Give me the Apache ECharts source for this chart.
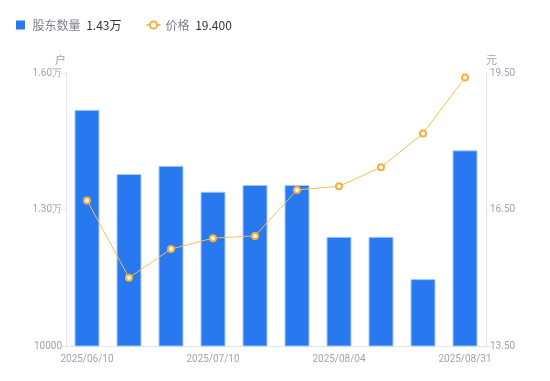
<!DOCTYPE html>
<html>
<head>
<meta charset="utf-8">
<script src="https://cdn.jsdelivr.net/npm/echarts@6/dist/echarts.min.js"></script>
<style>
html,body{margin:0;padding:0;background:#fff;}
#main{width:550px;height:381px;}
</style>
</head>
<body>
<div id="main"></div>
<script>
var dates = ['2025/06/10','2025/06/20','2025/06/30','2025/07/10','2025/07/20','2025/07/31','2025/08/04','2025/08/10','2025/08/20','2025/08/31'];
var holders = [15190, 13780, 13960, 13390, 13540, 13540, 12400, 12400, 11470, 14300];	// 户
var prices = [16.70, 15.00, 15.63, 15.87, 15.92, 16.93, 17.01, 17.43, 18.17, 19.40];	// 元
var holderTicks = [10000, 13000, 16000];
var priceTicks = [13.5, 16.5, 19.5];

var chart = echarts.init(document.getElementById('main'));
var labelColor = '#a0a3b1';
var lineColor = '#e3e5ea';

function fmtHolder(v) {		// 左轴格式，最小值不转万
	if (v <= 10000) return String(v);
	return (v / 10000).toFixed(2) + '万';
}

chart.setOption({
	animation: false,
	legend: {
		left: 11,
		top: 14,
		itemGap: 24,
		itemWidth: 14,
		itemHeight: 9,
		textStyle: {
			fontFamily: 'Noto Sans CJK SC',
			fontSize: 12,
			color: '#7c7f8c',
			rich: {
				v: { color: '#333', fontSize: 12, fontFamily: 'Noto Sans CJK SC', padding: [0, 0, 0, 3] }
			}
		},
		data: [
			{ name: '股东数量', icon: 'path://M0,0H10V10H0Z', itemStyle: { borderWidth: 0 } },
			{ name: '价格' }
		],
		formatter: function(name) {
			if (name == '股东数量') return name + ' {v|' + (holders[holders.length - 1] / 10000).toFixed(2) + '万}';
			return name + ' {v|' + prices[prices.length - 1].toFixed(3) + '}';
		}
	},
	grid: { left: 66, right: 64, top: 73, bottom: 35 },
	xAxis: {
		type: 'category',
		data: dates,
		axisLine: { lineStyle: { color: lineColor } },
		axisTick: { show: false },
		axisLabel: {
			interval: 2,
			color: labelColor,
			fontSize: 10,
			fontFamily: 'Roboto',
			margin: 8
		}
	},
	yAxis: [
		{
			type: 'value',
			name: '户',
			nameGap: 8,
			nameTextStyle: { color: labelColor, fontSize: 11, fontFamily: 'Noto Sans CJK SC', align: 'right' },
			min: holderTicks[0],
			max: holderTicks[holderTicks.length - 1],
			interval: holderTicks[1] - holderTicks[0],
			splitLine: { show: false },
			axisLine: { show: true, lineStyle: { color: lineColor } },
			axisTick: { show: true, length: 4, lineStyle: { color: lineColor } },
			axisLabel: { color: labelColor, fontSize: 10, fontFamily: 'Roboto', margin: 4, formatter: fmtHolder }
		},
		{
			type: 'value',
			name: '元',
			nameGap: 8,
			nameTextStyle: { color: labelColor, fontSize: 11, fontFamily: 'Noto Sans CJK SC', align: 'left' },
			min: priceTicks[0],
			max: priceTicks[priceTicks.length - 1],
			interval: priceTicks[1] - priceTicks[0],
			splitLine: { show: false },
			axisLine: { show: true, lineStyle: { color: lineColor } },
			axisTick: { show: true, length: 4, lineStyle: { color: lineColor } },
			axisLabel: { color: labelColor, fontSize: 10, fontFamily: 'Roboto', margin: 4, formatter: function(v) { return v.toFixed(2); } }
		}
	],
	series: [
		{
			name: '股东数量',
			type: 'bar',
			yAxisIndex: 0,
			barWidth: 25,
			itemStyle: { color: '#2878f0', borderColor: '#a8c8fa', borderWidth: 1 },
			data: holders
		},
		{
			name: '价格',
			type: 'line',
			yAxisIndex: 1,
			symbol: 'emptyCircle',
			symbolSize: 6,
			lineStyle: { color: '#f8bd55', width: 1 },
			itemStyle: { color: '#f7b03c', borderWidth: 2 },
			data: prices
		}
	]
});
</script>
</body>
</html>
